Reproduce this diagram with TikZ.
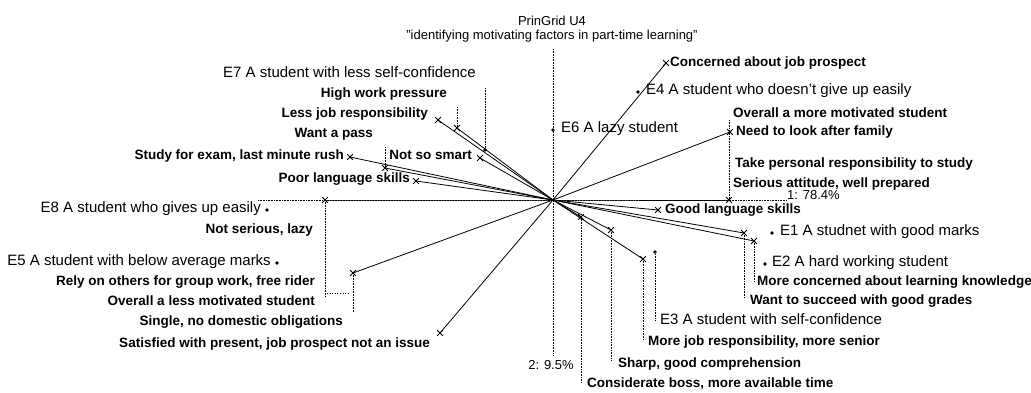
\documentclass[tikz,border=0pt]{standalone}
\usepackage{fontspec}
\setmainfont{Liberation Sans}
\usetikzlibrary{shapes.misc}
\begin{document}
\begin{tikzpicture}[x=1pt,y=-1pt,
  clab/.style={font=\fontsize{13.5}{16}\selectfont\bfseries, inner sep=0pt},
  elab/.style={font=\fontsize{15}{17}\selectfont, inner sep=0pt},
  tlab/.style={font=\fontsize{13}{15}\selectfont, inner sep=0pt},
  mk/.style={cross out, draw, line width=0.8pt, minimum size=5pt, inner sep=0pt},
  el/.style={circle, fill, inner sep=0pt, minimum size=3.6pt},
  ax/.style={densely dotted, line width=0.6pt},
  lead/.style={densely dotted, line width=0.6pt},
  cline/.style={line width=0.8pt}]
\useasboundingbox (0,0) rectangle (1031,392);
\fill[white] (0,0) rectangle (1031,392);

% title
\node[tlab] (t1) at (552,21) {PrinGrid U4};
\node[tlab] (t2) at (552,36) {"identifying motivating factors in part-time learning"};

% origin and axes
\coordinate (O) at (553,200);
\coordinate (axL) at (258,200);
\coordinate (axR) at (787,200);
\coordinate (axT) at (553,49);
\coordinate (axB) at (553,355);
\draw[ax] (axL) -- (axR);
\draw[ax] (axT) -- (axB);
\node[tlab, anchor=mid west] (a1) at (787,197) {1: 78.4\%};
\node[tlab] (a2) at (551,365) {2: 9.5\%};

% construct markers
\node[mk] (mConc) at (666,63) {};
\node[mk] (mNeed) at (730,132) {};
\node[mk] (mSer) at (729,200) {};
\node[mk] (mGood) at (658,210) {};
\node[mk] (mWant) at (744,233) {};
\node[mk] (mLearn) at (754,241) {};
\node[mk] (mMoreJob) at (643,259) {};
\node[mk] (mSharp) at (611,230) {};
\node[mk] (mCons) at (581,217) {};
\node[mk] (mLess) at (438,120) {};
\node[mk] (mHigh) at (457,128) {};
\node[mk] (mSmart) at (480,158) {};
\node[mk] (mStudy) at (350,157) {};
\node[mk] (mPass) at (385,168) {};
\node[mk] (mPoor) at (416,181) {};
\node[mk] (mNotSer) at (325,200) {};
\node[mk] (mSingle) at (353,273) {};
\node[mk] (mSat) at (440,333) {};

% construct lines
\draw[cline] (mConc.center) -- (O) -- (mSat.center);
\draw[cline] (mNeed.center) -- (O) -- (mSingle.center);
\draw[cline] (mLess.center) -- (O) -- (mMoreJob.center);
\draw[cline] (mHigh.center) -- (O) -- (mCons.center);
\draw[cline] (mSmart.center) -- (O) -- (mSharp.center);
\draw[cline] (mStudy.center) -- (O) -- (mLearn.center);
\draw[cline] (mPass.center) -- (O) -- (mWant.center);
\draw[cline] (mPoor.center) -- (O) -- (mGood.center);
\draw[cline] (mNotSer.center) -- (O) -- (mSer.center);

% elements
\node[el] (dE4) at (638,92) {};
\node[el] (dE6) at (553,130) {};
\node[el] (dE7) at (485,150) {};
\node[el] (dE8) at (267,210) {};
\node[el] (dE5) at (277,263) {};
\node[el] (dE1) at (772,233) {};
\node[el] (dE2) at (765,264) {};
\node[el] (dE3) at (655,252) {};

% leader lines
\coordinate (lE7) at (485,88);
\coordinate (lHigh) at (457,107);
\coordinate (lPass) at (385,147);
\coordinate (lNotSer) at (325,297);
\coordinate (lSingle) at (353,312);
\coordinate (hA) at (327,293);
\coordinate (hB) at (350,293);
\coordinate (lCons) at (581,383);
\coordinate (lSharp) at (611,360);
\coordinate (lMoreJob) at (643,340);
\coordinate (lE3) at (655,320);
\coordinate (lWant) at (744,298);
\coordinate (lLearn) at (754,282);
\coordinate (lSer) at (729,120);
\draw[lead] (lE7) -- (dE7);
\draw[lead] (lHigh) -- (mHigh.center);
\draw[lead] (lPass) -- (mPass.center);
\draw[lead] (mNotSer.center) -- (lNotSer);
\draw[lead] (mSingle.center) -- (lSingle);
\draw[lead, dotted] (hA) -- (hB);
\draw[lead] (mCons.center) -- (lCons);
\draw[lead] (mSharp.center) -- (lSharp);
\draw[lead] (mMoreJob.center) -- (lMoreJob);
\draw[lead] (dE3) -- (lE3);
\draw[lead] (mWant.center) -- (lWant);
\draw[lead] (mLearn.center) -- (lLearn);
\draw[lead] (lSer) -- (mSer.center);

% left construct labels
\node[clab, anchor=mid east] (cHigh) at (447,95) {High work pressure};
\node[clab, anchor=mid east] (cLess) at (428,115) {Less job responsibility};
\node[clab, anchor=mid east] (cPass) at (373,135) {Want a pass};
\node[clab, anchor=mid east] (cStudy) at (344,157) {Study for exam, last minute rush};
\node[clab, anchor=mid east] (cSmart) at (472,157) {Not so smart};
\node[clab, anchor=mid east] (cPoor) at (410,180) {Poor language skills};
\node[clab, anchor=mid east] (cNotSer) at (313,231) {Not serious, lazy};
\node[clab, anchor=mid east] (cRely) at (315,283) {Rely on others for group work, free rider};
\node[clab, anchor=mid east] (cLessMot) at (315,303) {Overall a less motivated student};
\node[clab, anchor=mid east] (cSingle) at (343,323) {Single, no domestic obligations};
\node[clab, anchor=mid east] (cSat) at (430,345) {Satisfied with present, job prospect not an issue};

% right construct labels
\node[clab, anchor=mid west] (cConc) at (670,64) {Concerned about job prospect};
\node[clab, anchor=mid west] (cMoreMot) at (733,115) {Overall a more motivated student};
\node[clab, anchor=mid west] (cNeed) at (736,133) {Need to look after family};
\node[clab, anchor=mid west] (cTake) at (735,165) {Take personal responsibility to study};
\node[clab, anchor=mid west] (cSer) at (733,185) {Serious attitude, well prepared};
\node[clab, anchor=mid west] (cGood) at (665,211) {Good language skills};
\node[clab, anchor=mid west] (cLearn) at (757,283) {More concerned about learning knowledge};
\node[clab, anchor=mid west] (cWant) at (750,302) {Want to succeed with good grades};
\node[clab, anchor=mid west] (cMoreJob) at (648,343) {More job responsibility, more senior};
\node[clab, anchor=mid west] (cSharp) at (618,365) {Sharp, good comprehension};
\node[clab, anchor=mid west] (cCons) at (587,385) {Considerate boss, more available time};

% element labels
\node[elab, anchor=mid east] (tE7) at (476,75) {E7 A student with less self-confidence};
\node[elab, anchor=mid east] (tE8) at (261,210) {E8 A student who gives up easily};
\node[elab, anchor=mid east] (tE5) at (271,263) {E5 A student with below average marks};
\node[elab, anchor=mid west] (tE4) at (646,92) {E4 A student who doesn't give up easily};
\node[elab, anchor=mid west] (tE6) at (561,130) {E6 A lazy student};
\node[elab, anchor=mid west] (tE1) at (780,233) {E1 A studnet with good marks};
\node[elab, anchor=mid west] (tE2) at (772,264) {E2 A hard working student};
\node[elab, anchor=mid west] (tE3) at (660,322) {E3 A student with self-confidence};
\end{tikzpicture}
\end{document}
